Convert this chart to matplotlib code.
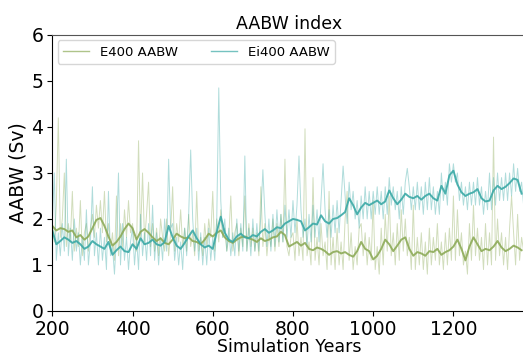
import numpy as np
import matplotlib
matplotlib.use("Agg")
import matplotlib.pyplot as plt

# Smoothed series (every 10 years, 200..1370)
smooth_years = list(range(200, 1380, 10))
e400_smooth = [
    1.85, 1.75, 1.80, 1.78, 1.72, 1.75, 1.60, 1.65, 1.55, 1.62,
    1.80, 1.98, 2.02, 1.85, 1.62, 1.42, 1.50, 1.62, 1.78, 1.90,
    1.80, 1.55, 1.72, 1.78, 1.70, 1.60, 1.52, 1.58, 1.48, 1.45,
    1.55, 1.68, 1.62, 1.58, 1.60, 1.52, 1.50, 1.45, 1.55, 1.68,
    1.62, 1.70, 1.75, 1.60, 1.52, 1.48, 1.55, 1.60, 1.62, 1.58,
    1.55, 1.50, 1.58, 1.52, 1.55, 1.60, 1.62, 1.72, 1.65, 1.40,
    1.45, 1.50, 1.42, 1.48, 1.35, 1.32, 1.38, 1.35, 1.30, 1.22,
    1.28, 1.30, 1.25, 1.28, 1.22, 1.18, 1.30, 1.50, 1.35, 1.30,
    1.12, 1.20, 1.35, 1.55, 1.45, 1.30, 1.42, 1.55, 1.60, 1.35,
    1.20, 1.28, 1.25, 1.20, 1.30, 1.28, 1.35, 1.22, 1.28, 1.32,
    1.40, 1.55, 1.35, 1.10, 1.40, 1.60, 1.45, 1.30, 1.35, 1.32,
    1.40, 1.52, 1.38, 1.30, 1.35, 1.42, 1.38, 1.32,
]
ei400_smooth = [
    1.75, 1.45, 1.52, 1.60, 1.55, 1.48, 1.52, 1.45, 1.35, 1.40,
    1.52, 1.45, 1.40, 1.35, 1.50, 1.22, 1.32, 1.40, 1.30, 1.28,
    1.45, 1.35, 1.58, 1.45, 1.48, 1.55, 1.45, 1.42, 1.50, 1.85,
    1.60, 1.42, 1.35, 1.48, 1.62, 1.75, 1.58, 1.45, 1.38, 1.42,
    1.35, 1.72, 2.05, 1.70, 1.55, 1.50, 1.62, 1.68, 1.60, 1.58,
    1.65, 1.62, 1.72, 1.78, 1.70, 1.75, 1.82, 1.80, 1.90, 1.95,
    2.00, 1.98, 1.95, 1.75, 1.82, 1.90, 1.88, 2.08, 1.95, 1.90,
    2.00, 2.02, 2.08, 2.15, 2.45, 2.30, 2.10, 2.25, 2.35, 2.30,
    2.35, 2.40, 2.32, 2.38, 2.62, 2.45, 2.32, 2.42, 2.55, 2.48,
    2.45, 2.50, 2.42, 2.50, 2.55, 2.45, 2.40, 2.72, 2.55, 2.95,
    3.05, 2.75, 2.58, 2.50, 2.55, 2.58, 2.65, 2.45, 2.38, 2.40,
    2.62, 2.72, 2.65, 2.70, 2.78, 2.88, 2.85, 2.55,
]

# Raw series (every 5 years, 200..1375)
raw_years = list(range(200, 1380, 5))
e400_raw = [
    1.9, 1.5, 2.3, 4.2, 1.6, 2.0, 3.0, 1.4, 1.9, 1.5, 2.6, 1.3, 1.8, 1.4, 2.4, 1.2, 1.7, 1.9, 1.3, 1.8,
    2.1, 1.6, 2.3, 1.8, 2.4, 1.7, 2.6, 1.5, 1.9, 1.3, 1.7, 1.1, 2.5, 1.2, 1.9, 1.4, 2.2, 1.6, 2.4, 1.7,
    1.9, 1.4, 1.3, 3.7, 1.6, 3.0, 1.5, 2.1, 2.8, 1.4, 1.9, 1.3, 1.8, 1.2, 2.0, 1.6, 1.3, 2.0, 1.2, 1.7,
    2.7, 1.3, 1.9, 1.5, 2.2, 1.4, 1.8, 1.3, 2.1, 1.4, 1.7, 1.2, 2.6, 1.3, 1.6, 1.2, 1.9, 1.4, 2.0, 1.6,
    2.6, 1.3, 2.0, 1.5, 2.2, 1.6, 1.8, 1.3, 1.6, 2.5, 1.3, 1.7, 1.9, 1.2, 1.8, 1.4, 2.5, 1.3, 1.9, 1.4,
    1.8, 1.3, 1.7, 1.2, 2.7, 1.4, 1.9, 1.2, 1.7, 1.4, 2.0, 1.3, 1.9, 1.4, 2.1, 1.5, 3.3, 1.4, 1.2, 1.6,
    1.7, 1.1, 2.0, 1.2, 1.6, 1.1, 3.96, 1.2, 1.5, 1.0, 2.9, 1.1, 1.6, 1.0, 1.9, 1.2, 1.5, 0.9, 2.6, 1.0,
    1.6, 0.9, 1.8, 1.0, 1.5, 0.9, 2.0, 2.6, 1.1, 1.7, 0.9, 1.4, 1.0, 1.8, 1.9, 1.2, 1.7, 1.0, 1.6, 1.1,
    2.4, 0.9, 1.4, 0.8, 1.8, 1.0, 2.1, 1.3, 2.5, 1.2, 1.7, 1.0, 1.9, 1.1, 2.2, 1.3, 2.0, 1.2, 1.6, 0.9,
    2.3, 0.9, 1.6, 1.0, 1.7, 0.9, 1.5, 0.8, 1.8, 1.0, 1.6, 1.1, 1.9, 1.0, 1.5, 0.9, 1.7, 1.0, 1.8, 1.1,
    2.5, 1.1, 2.2, 1.2, 1.7, 1.0, 1.3, 0.8, 1.9, 1.1, 2.3, 1.2, 1.8, 1.1, 1.6, 0.9, 1.9, 1.0, 1.7, 1.0,
    3.78, 1.1, 2.0, 1.2, 1.7, 1.0, 1.6, 0.9, 1.8, 2.5, 1.7, 1.0, 2.1, 1.1, 1.6, 1.3,
]
ei400_raw = [
    1.9, 3.0, 1.1, 1.7, 1.2, 1.9, 1.3, 3.3, 1.2, 1.8, 1.1, 2.0, 1.3, 1.7, 1.0, 1.6, 1.1, 2.2, 1.0, 1.5,
    2.7, 1.2, 1.7, 1.0, 1.8, 1.1, 1.6, 0.9, 2.6, 1.2, 1.4, 0.8, 1.6, 3.0, 1.0, 1.9, 1.1, 1.6, 0.9, 1.5,
    1.8, 1.0, 1.6, 0.9, 2.1, 1.2, 1.7, 1.1, 1.9, 1.2, 2.3, 1.1, 1.7, 1.0, 1.6, 1.1, 2.0, 1.3, 3.3, 1.8,
    1.9, 1.1, 1.6, 1.0, 1.5, 0.9, 1.8, 1.2, 2.1, 3.5, 2.0, 1.3, 1.8, 1.1, 1.7, 1.0, 1.6, 1.0, 1.8, 1.1,
    1.6, 1.1, 2.0, 4.85, 2.4, 1.6, 2.0, 1.3, 1.8, 1.2, 1.7, 1.2, 2.0, 1.3, 1.9, 1.3, 3.37, 1.3, 1.8, 1.2,
    2.0, 1.3, 1.9, 1.3, 2.1, 3.07, 2.1, 1.4, 2.0, 1.3, 2.1, 1.4, 2.2, 1.5, 2.1, 1.5, 2.3, 1.6, 2.2, 1.6,
    2.4, 1.7, 2.3, 3.37, 2.2, 1.6, 2.0, 1.4, 2.1, 1.5, 2.3, 1.6, 2.2, 1.5, 2.4, 3.2, 2.2, 1.6, 2.2, 1.6,
    2.3, 1.7, 2.4, 1.7, 2.4, 3.15, 2.5, 1.9, 2.8, 2.2, 2.6, 2.0, 2.4, 1.8, 2.5, 2.0, 2.7, 2.0, 2.6, 2.0,
    2.6, 2.1, 2.7, 2.1, 2.6, 2.0, 2.7, 2.1, 2.9, 2.3, 2.7, 2.2, 2.6, 2.0, 2.7, 2.1, 2.8, 3.1, 2.7, 2.2,
    2.7, 2.2, 2.8, 2.2, 2.7, 2.1, 2.8, 2.2, 2.9, 2.2, 2.7, 2.1, 2.6, 2.1, 3.0, 2.4, 2.8, 2.3, 3.2, 2.8,
    3.2, 2.8, 3.0, 2.4, 2.8, 2.3, 2.7, 2.2, 2.8, 2.3, 2.8, 2.3, 2.9, 2.3, 2.7, 2.1, 2.6, 2.2, 3.0, 2.2,
    2.9, 2.3, 3.0, 2.4, 2.9, 2.4, 3.0, 2.4, 3.0, 2.5, 3.2, 2.6, 3.1, 2.6, 2.8, 2.3,
]

labels = ["E400 AABW", "Ei400 AABW"]
xticks = [200, 400, 600, 800, 1000, 1200]
yticks = [0, 1, 2, 3, 4, 5, 6]

c_e = "#8dab58"
c_ei = "#3aa9a6"

fig = plt.figure(figsize=(5.23, 3.57), dpi=100)
ax = fig.add_axes([0.1, 0.129, 0.905, 0.773])

ax.plot(raw_years, e400_raw, color=c_e, lw=0.7, alpha=0.4, label=labels[0])
ax.plot(raw_years, ei400_raw, color=c_ei, lw=0.7, alpha=0.4, label=labels[1])
ax.plot(smooth_years, e400_smooth, color=c_e, lw=1.4, alpha=0.9)
ax.plot(smooth_years, ei400_smooth, color=c_ei, lw=1.4, alpha=0.9)

ax.set_xlim(200, 1380)
ax.set_ylim(0, 6)
ax.set_xticks(xticks)
ax.set_yticks(yticks)
ax.tick_params(axis='x', labelsize=13.5, pad=3)
ax.tick_params(axis='y', labelsize=13.5, pad=3)
ax.spines['right'].set_visible(False)
ax.spines['top'].set_color('#555555')
ax.set_xlabel("Simulation Years", fontsize=12.5, labelpad=-1)
ax.set_ylabel("AABW (Sv)", fontsize=13.5, labelpad=3)
ax.set_title("AABW index", fontsize=12.5, pad=4)
leg = ax.legend(loc="upper left", ncol=2, fontsize=9.5, frameon=True, columnspacing=2.5,
                borderaxespad=0.4)
for h in leg.get_lines():
    h.set_linewidth(1.0)
    h.set_alpha(0.7)

fig.savefig("out.png", dpi=100)
